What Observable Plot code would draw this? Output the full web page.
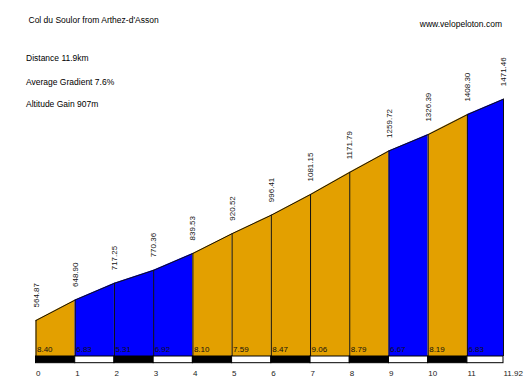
<!DOCTYPE html>
<html>
<head>
<meta charset="utf-8">
<script src="https://cdn.jsdelivr.net/npm/d3@7"></script>
<script src="https://cdn.jsdelivr.net/npm/@observablehq/plot@0.6"></script>
<style>
  html, body { margin: 0; padding: 0; background: #fff; }
  #chart svg { display: block; }
</style>
</head>
<body>
<div id="chart"></div>
<script>
// ---- data ----
const km = [0, 1, 2, 3, 4, 5, 6, 7, 8, 9, 10, 11, 11.92];
const elevation = [564.87, 648.90, 717.25, 770.36, 839.53, 920.52, 996.41, 1081.15, 1171.79, 1259.72, 1326.39, 1408.30, 1471.46];
const gradient = [8.40, 6.83, 5.31, 6.92, 8.10, 7.59, 8.47, 9.06, 8.79, 6.67, 8.19, 6.83];
const tickLabels = ["0", "1", "2", "3", "4", "5", "6", "7", "8", "9", "10", "11", "11.92"];
const title = "Col du Soulor from Arthez-d'Asson";
const infoLines = ["Distance 11.9km", "Average Gradient 7.6%", "Altitude Gain 907m"];
const website = "www.velopeloton.com";

// ---- scale setup ----
const yBase = 417.4;      // elevation at the baseline of the profile
const yStripEnd = 390;    // bottom of the distance strip (in elevation units)
const yTop = 1875.8;
const ORANGE = "#E3A000";
const BLUE = "#0000FF";

const segments = gradient.map((g, i) => ({
  i, x1: km[i], x2: km[i + 1], g,
  color: g < 7 ? BLUE : ORANGE,
  shade: i % 2 === 0 ? "black" : "white"
}));
const areaPts = segments.flatMap(s => [
  {seg: s.i, x: km[s.i], y: elevation[s.i], color: s.color},
  {seg: s.i, x: km[s.i + 1], y: elevation[s.i + 1], color: s.color}
]);
const points = km.map((k, i) => ({x: k, y: elevation[i], label: elevation[i].toFixed(2)}));

const FONT = "'Liberation Sans', Arial, sans-serif";
const infoDy = [54, 78.5, 100.5];

const chart = Plot.plot({
  width: 524,
  height: 384,
  marginLeft: 35.5,
  marginRight: 21,
  marginTop: 0,
  marginBottom: 28,
  style: {fontFamily: FONT, background: "#fff", overflow: "visible"},
  x: {domain: [0, 11.92], axis: null},
  y: {domain: [yBase, yTop], axis: null},
  color: {type: "identity"},
  marks: [
    Plot.areaY(areaPts, {x: "x", y1: yBase, y2: "y", z: "seg", fill: "color", curve: "linear"}),
    Plot.ruleX(points, {x: "x", y1: yBase, y2: "y", stroke: "#111", strokeWidth: 1}),
    Plot.line(points, {x: "x", y: "y", stroke: "#111", strokeWidth: 1}),
    Plot.rect(segments, {x1: "x1", x2: "x2", y1: yStripEnd, y2: yBase, fill: "shade", stroke: "black", strokeWidth: 1}),
    Plot.text(segments, {x: "x1", y: yBase, text: d => d.g.toFixed(2), textAnchor: "start", dx: 1, dy: -7, fontSize: 8, fill: "#111"}),
    Plot.text(points, {x: "x", y: "y", text: "label", rotate: -90, textAnchor: "start", dy: -13, fontSize: 8, fill: "#111"}),
    Plot.text(km, {x: d => d, y: yStripEnd, text: (d, i) => tickLabels[i], textAnchor: "start", dy: 10.5, fontSize: 8, fill: "#222"}),
    Plot.text([title], {frameAnchor: "top-left", text: d => d, textAnchor: "start", dx: -7.5, dy: 16, fontSize: 8.5, fill: "#000"}),
    ...infoLines.map((line, i) =>
      Plot.text([line], {frameAnchor: "top-left", text: d => d, textAnchor: "start", dx: -10, dy: infoDy[i], fontSize: 8.5, fill: "#000"})
    ),
    Plot.text([website], {frameAnchor: "top-right", text: d => d, textAnchor: "end", dx: -1.5, dy: 20, fontSize: 8.5, fill: "#000"})
  ]
});
document.getElementById("chart").appendChild(chart);
</script>
</body>
</html>
